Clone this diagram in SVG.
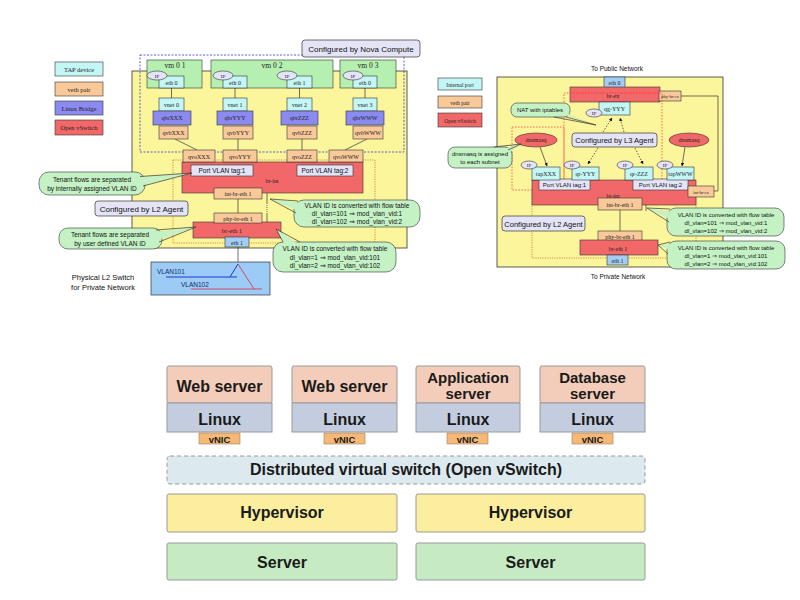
<svg xmlns="http://www.w3.org/2000/svg" width="800" height="600" viewBox="0 0 800 600">
<defs>
<style>
.bx{stroke:#333;stroke-width:0.6}
.cy{fill:#c4f6f6}.or{fill:#f9c99a}.pu{fill:#8a8af0}.rd{fill:#f26868}.gr{fill:#b6f0b0}.bl{fill:#a2cdf4}.lv{fill:#e4e4f8}.co{fill:#c4f2c4}
.ts{font-family:"Liberation Serif",serif;font-size:6px;text-anchor:middle;fill:#222}
.tn{font-family:"Liberation Sans",Arial,sans-serif;font-size:6.5px;text-anchor:middle;fill:#111}
.tl{font-family:"Liberation Sans",Arial,sans-serif;font-size:8px;text-anchor:middle;fill:#111}
.ln{stroke:#333;stroke-width:0.7;fill:none}
.dl{stroke:#222;stroke-width:0.7;fill:none;stroke-dasharray:1.5,1.5}
.tb{font-family:"Liberation Sans",Arial,sans-serif;font-weight:bold;font-size:16px;text-anchor:middle;fill:#1a1a1a}
.t2{font-family:"Liberation Sans",Arial,sans-serif;font-weight:bold;font-size:15px;text-anchor:middle;fill:#1a1a1a}
.tv{font-family:"Liberation Sans",Arial,sans-serif;font-weight:bold;font-size:9.5px;text-anchor:middle;fill:#1a1a1a}
.lay{stroke:#999;stroke-width:1}
.vn{fill:#f6b877;stroke:#a08060;stroke-width:0.6}
</style>
<marker id="ah" viewBox="0 0 10 10" refX="9" refY="5" markerWidth="5" markerHeight="5" orient="auto"><path d="M0,0L10,5L0,10z" fill="#111"/></marker>
</defs>
<rect width="800" height="600" fill="#fff"/>

<!-- ============ LEFT DIAGRAM ============ -->
<g id="legendL">
<rect class="bx cy" x="55" y="62" width="48" height="14"/><text class="ts" x="79" y="71.5" style="font-size:6.5px">TAP   device</text>
<rect class="bx or" x="55" y="82" width="48" height="14"/><text class="ts" x="79" y="91.5" style="font-size:6.5px">veth   pair</text>
<rect class="bx pu" x="55" y="101" width="48" height="14"/><text class="ts" x="79" y="110.5" style="font-size:6.5px">Linux   Bridge</text>
<rect class="bx rd" x="55" y="120" width="48" height="15"/><text class="ts" x="79" y="130" style="font-size:6.5px">Open   vSwitch</text>
</g>
<rect id="yellowL" x="132" y="71" width="275" height="177" fill="#fbf59c" stroke="#333" stroke-width="0.8"/>
<rect id="novaRegion" x="140" y="55" width="264" height="97" fill="none" stroke="#3040c8" stroke-width="0.8" stroke-dasharray="2,1.5"/>
<rect id="l2RegionL" x="173" y="160" width="202" height="83" fill="none" stroke="#d0601a" stroke-width="0.7" stroke-dasharray="1.2,1.2"/>

<g id="connectorsL">
<path class="ln" d="M171.5,88V98M235,88V98M299.5,88V98M365,88V98"/>
<path class="ln" d="M175,139L197,150M238,139V150M302,139V150M367,139L345,150"/>
<path class="ln" d="M238,199V213M238,247V262"/>
<line class="ln" x1="267" y1="203" x2="267" y2="190" marker-end="url(#ah)"/>
<line class="ln" x1="267" y1="203" x2="267" y2="214" stroke-dasharray="1,1"/>
<line class="ln" x1="267" y1="214" x2="267" y2="230" marker-end="url(#ah)"/>
</g>

<g id="vm01"><rect class="bx gr" x="147" y="60" width="55" height="28"/><text class="ts" x="175" y="68" style="font-size:7.5px">vm 0 1</text>
<rect class="bx cy" x="159" y="76" width="25" height="12"/><text class="ts" x="171.5" y="84.5">eth 0</text>
<ellipse class="bx lv" cx="157" cy="75.5" rx="10" ry="4.5"/><text class="ts" x="157" y="77.5" style="font-size:5px">IP</text></g>
<g id="vm02"><rect class="bx gr" x="211" y="60" width="122" height="28"/><text class="ts" x="272" y="68" style="font-size:7.5px">vm 0 2</text>
<rect class="bx cy" x="223" y="76" width="24" height="12"/><text class="ts" x="235" y="84.5">eth 0</text>
<ellipse class="bx lv" cx="223" cy="75.5" rx="10" ry="4.5"/><text class="ts" x="223" y="77.5" style="font-size:5px">IP</text>
<rect class="bx cy" x="287" y="76" width="25" height="12"/><text class="ts" x="299.5" y="84.5">eth 1</text>
<ellipse class="bx lv" cx="287" cy="75.5" rx="10" ry="4.5"/><text class="ts" x="287" y="77.5" style="font-size:5px">IP</text></g>
<g id="vm03"><rect class="bx gr" x="340" y="60" width="56" height="28"/><text class="ts" x="368" y="68" style="font-size:7.5px">vm 0 3</text>
<rect class="bx cy" x="353" y="76" width="24" height="12"/><text class="ts" x="365" y="84.5">eth 0</text>
<ellipse class="bx lv" cx="353" cy="75.5" rx="10" ry="4.5"/><text class="ts" x="353" y="77.5" style="font-size:5px">IP</text></g>

<g id="vnet0"><rect class="bx cy" x="159" y="98" width="25" height="13"/><text class="ts" x="171.5" y="107">vnet 0</text></g>
<g id="vnet1"><rect class="bx cy" x="223" y="98" width="24" height="13"/><text class="ts" x="235" y="107">vnet 1</text></g>
<g id="vnet2"><rect class="bx cy" x="287" y="98" width="25" height="13"/><text class="ts" x="299.5" y="107">vnet 2</text></g>
<g id="vnet3"><rect class="bx cy" x="353" y="98" width="24" height="13"/><text class="ts" x="365" y="107">vnet 3</text></g>
<g id="qbrXXX"><rect class="bx pu" x="153" y="111" width="38" height="14"/><text class="ts" x="172" y="120">qbrXXX</text></g>
<g id="qbrYYY"><rect class="bx pu" x="217" y="111" width="36" height="14"/><text class="ts" x="235" y="120">qbrYYY</text></g>
<g id="qbrZZZ"><rect class="bx pu" x="281" y="111" width="37" height="14"/><text class="ts" x="299.5" y="120">qbrZZZ</text></g>
<g id="qbrWWW"><rect class="bx pu" x="346" y="111" width="38" height="14"/><text class="ts" x="365" y="120">qbrWWW</text></g>
<g id="qvbXXX"><rect class="bx or" x="159" y="126" width="29" height="13"/><text class="ts" x="173.5" y="135">qvbXXX</text></g>
<g id="qvbYYY"><rect class="bx or" x="223" y="126" width="30" height="13"/><text class="ts" x="238" y="135">qvbYYY</text></g>
<g id="qvbZZZ"><rect class="bx or" x="287" y="126" width="30" height="13"/><text class="ts" x="302" y="135">qvbZZZ</text></g>
<g id="qvbWWW"><rect class="bx or" x="353" y="126" width="30" height="13"/><text class="ts" x="368" y="135">qvbWWW</text></g>

<g id="brintL"><rect class="bx rd" x="182" y="162" width="181" height="31"/><text class="ts" x="272" y="183">br-int</text>
<rect class="bx lv" x="191" y="165" width="62" height="11"/><text class="tn" x="222" y="173">Port VLAN tag:1</text>
<rect class="bx lv" x="297" y="165" width="56" height="11"/><text class="tn" x="325" y="173">Port VLAN tag:2</text></g>
<g id="qvoXXX"><rect class="bx or" x="183" y="150" width="32" height="12"/><text class="ts" x="199" y="158.5">qvoXXX</text></g>
<g id="qvoYYY"><rect class="bx or" x="223" y="150" width="34" height="12"/><text class="ts" x="240" y="158.5">qvoYYY</text></g>
<g id="qvoZZZ"><rect class="bx or" x="287" y="150" width="30" height="12"/><text class="ts" x="302" y="158.5">qvoZZZ</text></g>
<g id="qvoWWW"><rect class="bx or" x="329" y="150" width="34" height="12"/><text class="ts" x="346" y="158.5">qvoWWW</text></g>
<g id="intbreth1L"><rect class="bx or" x="214" y="188" width="48" height="11"/><text class="ts" x="238" y="196">int-br-eth 1</text></g>
<g id="brethL"><rect class="bx rd" x="193" y="222" width="88" height="16"/><text class="ts" x="232" y="233" style="font-size:6.5px">br-eth 1</text></g>
<g id="phybreth1L"><rect class="bx or" x="214" y="213" width="48" height="10"/><text class="ts" x="238" y="220.5">phy-br-eth 1</text></g>
<g id="eth1L"><rect class="bx bl" x="225" y="237" width="24" height="10"/><text class="ts" x="237" y="244.5">eth 1</text></g>

<g id="novaLabel"><rect x="302" y="40" width="118" height="17" rx="3" fill="#e4e4f6" stroke="#333" stroke-width="0.7"/><text class="tl" x="361" y="51.5">Configured by Nova Compute</text></g>
<g id="l2LabelL"><rect x="95" y="201" width="93" height="15" rx="3" fill="#e4e4f6" stroke="#333" stroke-width="0.7"/><text class="tl" x="141.5" y="211.5">Configured by L2 Agent</text></g>

<g id="callout1"><rect class="co" x="39" y="172" width="106" height="23" rx="10" stroke="#333" stroke-width="0.6"/>
<polygon class="co" points="138,177 192,173 140,186"/><polyline class="ln" stroke-width="0.6" points="140,176.5 192,173 143,186"/>
<text class="tn" x="92" y="182">Tenant flows are separated</text><text class="tn" x="92" y="191">by internally assigned VLAN ID</text></g>
<g id="callout2"><rect class="co" x="59" y="228" width="103" height="21" rx="9" stroke="#333" stroke-width="0.6"/>
<polygon class="co" points="155,232 196,227 155,241"/><polyline class="ln" stroke-width="0.6" points="156,230 196,227 159,242"/>
<text class="tn" x="110" y="237">Tenant flows are separated</text><text class="tn" x="110" y="245.5">by user defined VLAN ID</text></g>
<g id="callout3"><rect class="co" x="294" y="200" width="126" height="27" rx="10" stroke="#333" stroke-width="0.6"/>
<polygon class="co" points="300,203 270,199 303,213"/><polyline class="ln" stroke-width="0.6" points="298,201 270,199 296,213"/>
<text class="tn" x="357" y="208">VLAN ID is converted with flow table</text><text class="tn" x="357" y="216">dl_vlan=101 ⇒ mod_vlan_vid:1</text><text class="tn" x="357" y="224">dl_vlan=102 ⇒ mod_vlan_vid:2</text></g>
<g id="callout4"><rect class="co" x="273" y="242" width="123" height="30" rx="10" stroke="#333" stroke-width="0.6"/>
<polygon class="co" points="285,245 276,229 300,245"/><polyline class="ln" stroke-width="0.6" points="283,242 276,229 300,242"/>
<text class="tn" x="335" y="251">VLAN ID is converted with flow table</text><text class="tn" x="335" y="259.5">dl_vlan=1 ⇒ mod_vlan_vid:101</text><text class="tn" x="335" y="268">dl_vlan=2 ⇒ mod_vlan_vid:102</text></g>

<g id="physSwitch"><rect x="151" y="262" width="119" height="33" fill="#9ccbf6" stroke="#333" stroke-width="0.7"/>
<path d="M166,277H237M230,277L238,264" stroke="#2038d0" stroke-width="1" fill="none"/>
<path d="M238,264L254,289M191,289H262" stroke="#d04868" stroke-width="1" fill="none"/>
<text class="tn" x="157" y="274" style="text-anchor:start;fill:#1a2a60">VLAN101</text><text class="tn" x="181" y="287" style="text-anchor:start;fill:#1a2a60">VLAN102</text></g>
<text class="tn" x="103" y="280" style="font-size:7.5px">Physical L2 Switch</text>
<text class="tn" x="103" y="290" style="font-size:7.5px">for Private Network</text>

<!-- ============ RIGHT DIAGRAM ============ -->
<g id="legendR">
<rect class="bx cy" x="438" y="78" width="44" height="12"/><text class="ts" x="460" y="86.5" style="font-size:5.5px">Internal   port</text>
<rect class="bx or" x="438" y="96" width="44" height="12"/><text class="ts" x="460" y="104.5" style="font-size:5.5px">veth   pair</text>
<rect class="bx rd" x="438" y="113" width="44" height="14"/><text class="ts" x="460" y="122.5" style="font-size:5.5px">Open   vSwitch</text>
</g>
<text class="tn" x="617" y="71">To Public Network</text>
<text class="tn" x="618" y="279">To Private Network</text>
<rect id="yellowR" x="497" y="77" width="226" height="190" fill="#fbf59c" stroke="#333" stroke-width="0.8"/>
<rect id="l2RegionR" x="532" y="188" width="164" height="70" fill="none" stroke="#d0601a" stroke-width="0.7" stroke-dasharray="1.2,1.2"/>

<g id="connectorsR">
<path class="ln" d="M681,96H718V191H714"/>
<path class="ln" d="M620,210V231M617,255V265"/>
<line class="ln" x1="646" y1="211" x2="646" y2="199" marker-end="url(#ah)"/>
<line class="ln" x1="646" y1="242" x2="646" y2="254" marker-end="url(#ah)"/>
<line class="ln" x1="540" y1="147" x2="547" y2="166" marker-end="url(#ah)"/>
<line class="ln" x1="685" y1="147" x2="682" y2="166" marker-end="url(#ah)"/>
<line class="dl" x1="603" y1="132" x2="612" y2="118" marker-end="url(#ah)"/>
<line class="dl" x1="624" y1="132" x2="620" y2="118" marker-end="url(#ah)"/>
<line class="dl" x1="598" y1="148" x2="588" y2="164" marker-end="url(#ah)"/>
<line class="dl" x1="635" y1="148" x2="643" y2="164" marker-end="url(#ah)"/>
</g>

<g id="eth0R"><rect class="bx bl" x="604" y="77" width="21" height="11"/><text class="ts" x="614.5" y="85">eth 0</text></g>
<g id="brex"><rect class="bx rd" x="570" y="87" width="90" height="15"/><text class="ts" x="613" y="97.5">br-ex</text></g>
<g id="phybrex"><rect class="bx or" x="659" y="91" width="22" height="10"/><text class="ts" x="670" y="98" style="font-size:4.5px">phy-br-ex</text></g>
<g id="qgYYY"><rect class="bx cy" x="599" y="102" width="31" height="13"/><text class="ts" x="614.5" y="111">qg-YYY</text>
<ellipse class="bx lv" cx="594" cy="113" rx="8" ry="4"/><text class="ts" x="594" y="115" style="font-size:5px">IP</text></g>
<rect id="l3Region" x="564" y="93" width="98" height="97" fill="none" stroke="#ff2a2a" stroke-width="0.7" stroke-dasharray="1.5,1.5"/>
<rect id="dnsRegionL" x="512" y="127" width="52" height="63" fill="none" stroke="#ff2a2a" stroke-width="0.7" stroke-dasharray="1.5,1.5"/>

<g id="natCallout"><rect class="co" x="511" y="103" width="59" height="14" rx="6" stroke="#333" stroke-width="0.6"/>
<polygon class="co" points="556,112 596,125 563,112"/><polyline class="ln" stroke-width="0.6" points="554,117 596,125 566,117"/>
<text class="tn" x="540" y="112" style="font-size:6px">NAT with iptables</text></g>
<g id="l3Label"><rect x="572" y="133" width="85" height="14" rx="3" fill="#e4e4f6" stroke="#333" stroke-width="0.7"/><text class="tl" x="614.5" y="143" style="font-size:7.5px">Configured by L3 Agent</text></g>
<g id="dnsmasqL"><ellipse class="bx rd" cx="536" cy="140" rx="21" ry="7"/><text class="ts" x="536" y="142">dnsmasq</text></g>
<g id="dnsmasqR"><ellipse class="bx rd" cx="689" cy="140" rx="20" ry="7"/><text class="ts" x="689" y="142">dnsmasq</text></g>
<g id="dnsCallout"><rect class="co" x="448" y="147" width="64" height="21" rx="7" stroke="#333" stroke-width="0.6"/>
<polygon class="co" points="496,151 521,144 506,155"/><polyline class="ln" stroke-width="0.6" points="494,147 521,144 508,150"/>
<text class="tn" x="480" y="156" style="font-size:6px">dnsmasq is assigned</text><text class="tn" x="480" y="164" style="font-size:6px">to each subnet</text></g>

<g id="brintR"><rect class="bx rd" x="532" y="180" width="164" height="25"/><text class="ts" x="613" y="198">br-int</text>
<rect class="bx lv" x="539" y="179" width="51" height="11"/><text class="tn" x="564.5" y="187" style="font-size:6px">Port VLAN tag:1</text>
<rect class="bx lv" x="633" y="179" width="55" height="11"/><text class="tn" x="660.5" y="187" style="font-size:6px">Port VLAN tag:2</text></g>
<g id="tapXXX"><rect class="bx cy" x="532" y="167" width="28" height="13"/><text class="ts" x="546" y="176">tapXXX</text>
<ellipse class="bx lv" cx="529" cy="165" rx="8" ry="4"/><text class="ts" x="529" y="167" style="font-size:5px">IP</text></g>
<g id="qrYYY"><rect class="bx cy" x="572" y="167" width="27" height="13"/><text class="ts" x="585.5" y="176">qr-YYY</text>
<ellipse class="bx lv" cx="572" cy="165" rx="8" ry="4"/><text class="ts" x="572" y="167" style="font-size:5px">IP</text></g>
<g id="qrZZZ"><rect class="bx cy" x="625" y="167" width="28" height="13"/><text class="ts" x="639" y="176">qr-ZZZ</text>
<ellipse class="bx lv" cx="625" cy="165" rx="8" ry="4"/><text class="ts" x="625" y="167" style="font-size:5px">IP</text></g>
<g id="tapWWW"><rect class="bx cy" x="667" y="167" width="27" height="13"/><text class="ts" x="680.5" y="176">tapWWW</text>
<ellipse class="bx lv" cx="665" cy="165" rx="8" ry="4"/><text class="ts" x="665" y="167" style="font-size:5px">IP</text></g>
<g id="intbrex"><rect class="bx or" x="688" y="186" width="26" height="11"/><text class="ts" x="701" y="193.5" style="font-size:4.5px">int-br-ex</text></g>
<g id="intbreth1R"><rect class="bx or" x="598" y="198" width="44" height="12"/><text class="ts" x="620" y="206.5">int-br-eth 1</text></g>
<g id="phybreth1R"><rect class="bx or" x="598" y="231" width="44" height="11"/><text class="ts" x="620" y="239">phy-br-eth 1</text></g>
<g id="brethR"><rect class="bx rd" x="580" y="240" width="78" height="15"/><text class="ts" x="618" y="251">br-eth 1</text></g>
<g id="eth1R"><rect class="bx bl" x="607" y="255" width="21" height="10"/><text class="ts" x="617.5" y="262.5">eth 1</text></g>
<g id="l2LabelR"><rect x="502" y="216" width="83" height="15" rx="3" fill="#e4e4f6" stroke="#333" stroke-width="0.7"/><text class="tl" x="543.5" y="226.5" style="font-size:7.5px">Configured by L2 Agent</text></g>

<g id="callout5"><rect class="co" x="667" y="208" width="117" height="28" rx="9" stroke="#333" stroke-width="0.6"/>
<polygon class="co" points="672,212 647,208 676,222"/><polyline class="ln" stroke-width="0.6" points="670,209 647,208 669,222"/>
<text class="tn" x="726" y="217" style="font-size:6px">VLAN ID is converted with flow table</text><text class="tn" x="726" y="225" style="font-size:6px">dl_vlan=101 ⇒ mod_vlan_vid:1</text><text class="tn" x="726" y="232.5" style="font-size:6px">dl_vlan=102 ⇒ mod_vlan_vid:2</text></g>
<g id="callout6"><rect class="co" x="667" y="241" width="118" height="28" rx="9" stroke="#333" stroke-width="0.6"/>
<polygon class="co" points="672,244 658,245 676,253"/><polyline class="ln" stroke-width="0.6" points="670,242 658,245 668,254"/>
<text class="tn" x="726" y="250" style="font-size:6px">VLAN ID is converted with flow table</text><text class="tn" x="726" y="258" style="font-size:6px">dl_vlan=1 ⇒ mod_vlan_vid:101</text><text class="tn" x="726" y="265.5" style="font-size:6px">dl_vlan=2 ⇒ mod_vlan_vid:102</text></g>

<!-- ============ BOTTOM DIAGRAM ============ -->
<g id="vm1"><rect class="lay" x="167" y="366" width="105" height="37" fill="#f3cdb9" rx="2"/><rect class="lay" x="167" y="403" width="105" height="29" fill="#c4cde0"/>
<text class="tb" x="219.5" y="392">Web server</text><text class="tb" x="219.5" y="425">Linux</text>
<rect class="vn" x="199" y="433" width="41" height="11"/><text class="tv" x="219.5" y="442.5">vNIC</text></g>
<g id="vm2"><rect class="lay" x="292" y="366" width="105" height="37" fill="#f3cdb9" rx="2"/><rect class="lay" x="292" y="403" width="105" height="29" fill="#c4cde0"/>
<text class="tb" x="344.5" y="392">Web server</text><text class="tb" x="344.5" y="425">Linux</text>
<rect class="vn" x="324" y="433" width="41" height="11"/><text class="tv" x="344.5" y="442.5">vNIC</text></g>
<g id="vm3"><rect class="lay" x="416" y="366" width="104" height="37" fill="#f3cdb9" rx="2"/><rect class="lay" x="416" y="403" width="104" height="29" fill="#c4cde0"/>
<text class="t2" x="468" y="383">Application</text><text class="t2" x="468" y="399">server</text><text class="tb" x="468" y="425">Linux</text>
<rect class="vn" x="447" y="433" width="41" height="11"/><text class="tv" x="467.5" y="442.5">vNIC</text></g>
<g id="vm4"><rect class="lay" x="540" y="366" width="105" height="37" fill="#f3cdb9" rx="2"/><rect class="lay" x="540" y="403" width="105" height="29" fill="#c4cde0"/>
<text class="t2" x="592.5" y="383">Database</text><text class="t2" x="592.5" y="399">server</text><text class="tb" x="592.5" y="425">Linux</text>
<rect class="vn" x="572" y="433" width="41" height="11"/><text class="tv" x="592.5" y="442.5">vNIC</text></g>
<g id="dvs"><rect x="167" y="456" width="478" height="28" rx="3" fill="#dce9ef" stroke="#999" stroke-width="1" stroke-dasharray="4,3"/>
<text class="tb" x="406" y="475">Distributed virtual switch (Open vSwitch)</text></g>
<g id="hyp1"><rect class="lay" x="167" y="494" width="230" height="38" rx="2" fill="#fbef9f"/><text class="tb" x="282" y="518">Hypervisor</text></g>
<g id="hyp2"><rect class="lay" x="416" y="494" width="229" height="38" rx="2" fill="#fbef9f"/><text class="tb" x="530.5" y="518">Hypervisor</text></g>
<g id="srv1"><rect class="lay" x="167" y="543" width="230" height="37" rx="2" fill="#c6ebc3"/><text class="tb" x="282" y="568">Server</text></g>
<g id="srv2"><rect class="lay" x="416" y="543" width="229" height="37" rx="2" fill="#c6ebc3"/><text class="tb" x="530.5" y="568">Server</text></g>
</svg>
